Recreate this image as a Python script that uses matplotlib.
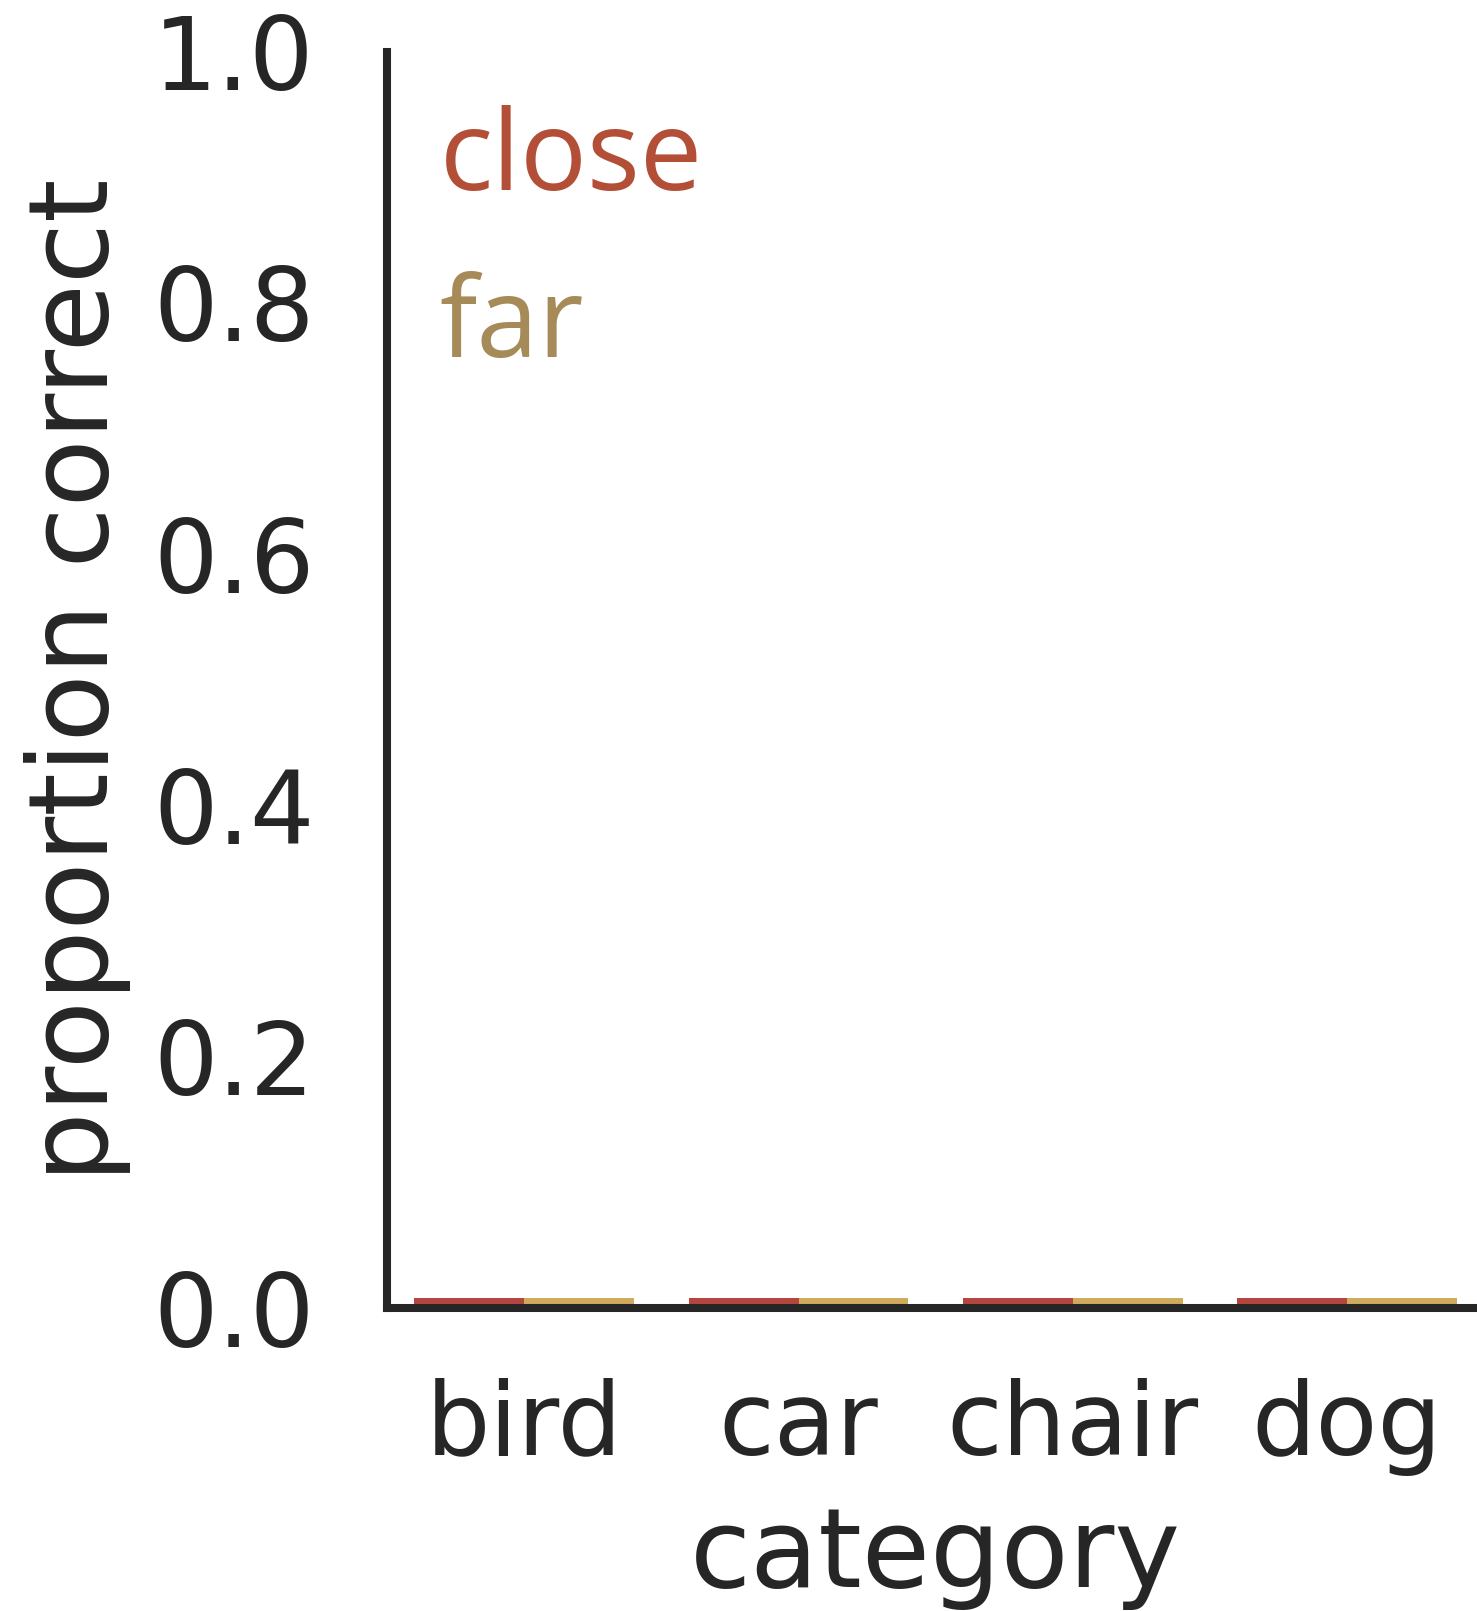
import matplotlib
matplotlib.use("Agg")
import matplotlib.pyplot as plt
import numpy as np

categories = ["bird", "car", "chair", "dog"]
close_vals = [0.008, 0.008, 0.008, 0.008]
far_vals = [0.008, 0.008, 0.008, 0.008]
conditions = ["close", "far"]

bar_colors = ["#b5453f", "#cfab5e"]
text_colors = ["#b34f36", "#a68a58"]
ink = "#262626"

fig = plt.figure(figsize=(14.77, 16.11), dpi=100)
ax = fig.add_axes([0.262, 0.188, 0.743, 0.780])

x = np.arange(len(categories))
w = 0.4
ax.bar(x - w / 2, close_vals, w, color=bar_colors[0], label=conditions[0])
ax.bar(x + w / 2, far_vals, w, color=bar_colors[1], label=conditions[1])

ax.set_xlim(-0.5, 3.5)
ax.set_ylim(0, 1.0)
ax.set_yticks([0, 0.2, 0.4, 0.6, 0.8, 1.0])
ax.set_xticks(x)
ax.set_xticklabels(categories)

for s in ["top", "right"]:
    ax.spines[s].set_visible(False)
for s in ["left", "bottom"]:
    ax.spines[s].set_linewidth(5.8)
    ax.spines[s].set_color(ink)

ax.tick_params(axis="both", length=0, labelsize=73, labelcolor=ink)
ax.tick_params(axis="y", pad=52)
ax.tick_params(axis="x", pad=50)

ax.set_xlabel("category", fontsize=80, color=ink, labelpad=20)
ax.set_ylabel("proportion correct", fontsize=80, color=ink, labelpad=16)

leg = ax.legend(frameon=False, handlelength=0, handletextpad=0, loc="upper left",
                bbox_to_anchor=(-0.043, 1.037), prop={"family": "Open Sans", "size": 80},
                labelspacing=0.49)
for t, c in zip(leg.get_texts(), text_colors):
    t.set_color(c)
for h in leg.legend_handles:
    h.set_visible(False)

fig.savefig("out.png", dpi=100)
